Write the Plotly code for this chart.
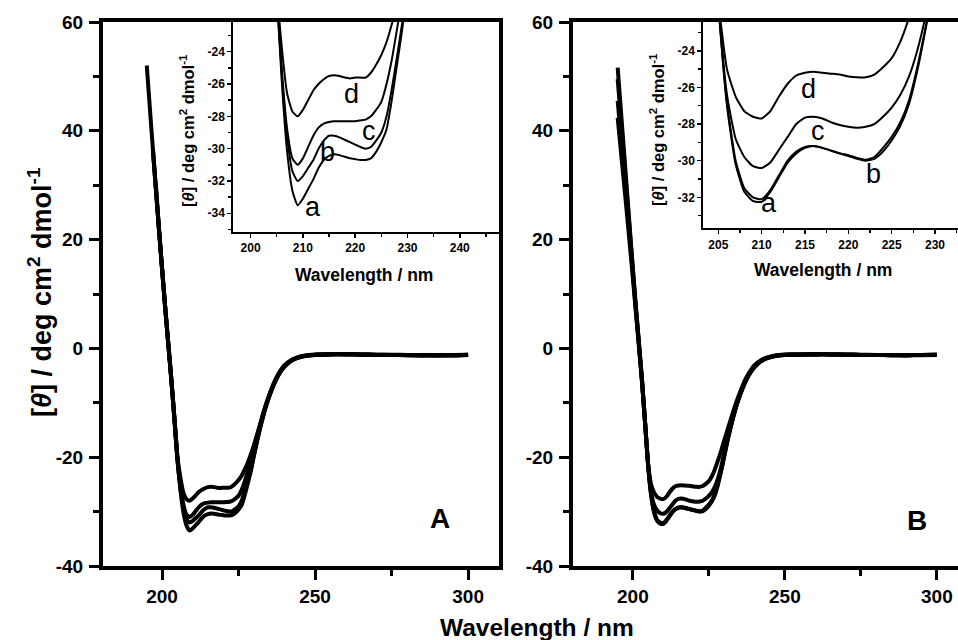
import plotly.graph_objects as go

# ---------------- data ----------------
WL = [195, 196, 197, 198, 199, 200, 201, 202, 203, 204,
      205, 206, 207, 208, 209, 210, 211, 212, 213, 214,
      215, 216, 217, 218, 219, 220, 221, 222, 223, 224,
      225, 226, 227, 228, 229, 230, 231, 232, 233, 234,
      235, 236, 237, 238, 239, 240,
      242, 244, 246, 248, 250, 255, 260, 265, 270, 275, 280, 285, 290, 295, 300]

A_a = [52.0, 44.3, 36.7, 29.2, 21.8, 14.6, 7.6, 1.0, -5.6, -12.8,
       -20.3, -26.0, -30.2, -32.6, -33.5, -33.1, -32.5, -31.9, -31.2, -30.7,
       -30.45, -30.35, -30.4, -30.5, -30.6, -30.65, -30.7, -30.7, -30.6, -30.2,
       -29.6, -28.8, -27.0, -24.8, -22.6, -19.8, -17.2, -14.8, -12.6, -10.6,
       -8.9, -7.4, -6.1, -5.0, -4.1, -3.4,
       -2.4, -1.8, -1.5, -1.3, -1.2, -1.1, -1.1, -1.15, -1.2, -1.2, -1.2, -1.3, -1.3, -1.25, -1.2]
A_b = [None, None, 36.8, 29.3, 21.9, 14.7, 7.7, 1.1, -5.5, -12.7,
       -20.2, -25.6, -29.3, -31.4, -32.0, -31.7, -31.2, -30.7, -30.0, -29.5,
       -29.2, -29.2, -29.3, -29.45, -29.6, -29.75, -29.9, -30.0, -29.9, -29.5,
       -29.0, -28.0, -26.3, -24.3, -22.2, -19.6, -17.0, -14.6, -12.4, -10.5,
       -8.8, -7.3, -6.0, -4.9, -4.0, -3.3,
       -2.35, -1.8, -1.45, -1.3, -1.2, -1.1, -1.05, -1.1, -1.2, -1.2, -1.25, -1.3, -1.25, -1.2, -1.15]
A_c = [None, None, 36.4, 29.1, 21.8, 14.6, 7.6, 1.0, -5.6, -12.6,
       -20.0, -25.2, -28.8, -30.6, -31.0, -30.6, -29.9, -29.2, -28.7, -28.45,
       -28.35, -28.3, -28.3, -28.3, -28.3, -28.3, -28.25, -28.2, -28.0, -27.6,
       -27.1, -26.0, -24.5, -22.6, -20.6, -18.5, -16.3, -14.2, -12.2, -10.3,
       -8.7, -7.2, -5.9, -4.8, -3.9, -3.2,
       -2.3, -1.75, -1.4, -1.25, -1.15, -1.1, -1.1, -1.1, -1.15, -1.2, -1.25, -1.25, -1.3, -1.3, -1.2]
A_d = [None, None, None, 29.9, 22.0, 14.8, 7.8, 1.2, -5.4, -12.4,
       -19.8, -23.8, -26.6, -27.7, -28.0, -27.6, -27.0, -26.4, -26.0, -25.7,
       -25.5, -25.45, -25.5, -25.6, -25.65, -25.6, -25.6, -25.6, -25.3, -24.8,
       -24.2, -23.4, -22.3, -21.0, -19.5, -17.8, -15.9, -14.0, -12.0, -10.2,
       -8.6, -7.1, -5.8, -4.7, -3.8, -3.1,
       -2.2, -1.7, -1.4, -1.2, -1.1, -1.05, -1.05, -1.1, -1.15, -1.15, -1.2, -1.2, -1.25, -1.25, -1.15]

B_a = [51.6, 44.2, 36.8, 29.4, 22.0, 14.7, 7.6, 1.0, -5.8, -13.5,
       -21.3, -27.0, -30.2, -31.7, -32.2, -32.25, -31.7, -30.9, -30.1, -29.6,
       -29.3, -29.2, -29.3, -29.45, -29.6, -29.7, -29.85, -29.95, -29.8, -29.3,
       -28.7, -27.9, -26.7, -24.8, -22.5, -19.9, -17.2, -14.8, -12.6, -10.6,
       -8.9, -7.4, -6.1, -5.0, -4.1, -3.4,
       -2.4, -1.8, -1.5, -1.3, -1.2, -1.15, -1.1, -1.1, -1.15, -1.2, -1.2, -1.25, -1.3, -1.25, -1.2]
B_b = [49.5, 42.5, 35.5, 28.5, 21.4, 14.3, 7.4, 0.9, -5.9, -13.6,
       -21.4, -26.8, -30.0, -31.5, -32.0, -32.1, -31.6, -30.8, -30.0, -29.5,
       -29.25, -29.2, -29.3, -29.45, -29.6, -29.75, -29.9, -30.0, -29.9, -29.5,
       -28.9, -28.1, -26.9, -25.0, -22.6, -20.0, -17.3, -14.9, -12.7, -10.7,
       -9.0, -7.5, -6.2, -5.1, -4.2, -3.5,
       -2.45, -1.85, -1.5, -1.3, -1.2, -1.15, -1.1, -1.1, -1.15, -1.2, -1.2, -1.25, -1.25, -1.2, -1.15]
B_c = [45.5, 39.2, 33.0, 26.7, 20.3, 13.7, 7.0, 0.6, -6.0, -13.6,
       -21.3, -26.4, -28.8, -29.8, -30.3, -30.4, -30.1, -29.4, -28.7, -28.0,
       -27.65, -27.6, -27.7, -27.9, -28.05, -28.15, -28.2, -28.15, -28.0, -27.6,
       -27.1, -26.4, -25.4, -23.9, -21.9, -19.4, -16.9, -14.6, -12.5, -10.5,
       -8.8, -7.3, -6.0, -4.9, -4.0, -3.3,
       -2.35, -1.8, -1.45, -1.25, -1.15, -1.1, -1.1, -1.1, -1.15, -1.2, -1.2, -1.25, -1.25, -1.2, -1.15]
B_d = [42.4, 36.6, 30.8, 25.0, 19.0, 12.9, 6.6, 0.3, -6.2, -13.6,
       -21.2, -25.0, -26.5, -27.3, -27.6, -27.7, -27.3, -26.5, -25.8, -25.35,
       -25.2, -25.15, -25.2, -25.25, -25.3, -25.4, -25.45, -25.45, -25.3, -24.9,
       -24.4, -23.5, -22.2, -20.6, -18.9, -17.0, -15.2, -13.4, -11.6, -9.9,
       -8.4, -7.0, -5.7, -4.7, -3.8, -3.1,
       -2.2, -1.7, -1.4, -1.2, -1.1, -1.1, -1.05, -1.1, -1.1, -1.15, -1.2, -1.2, -1.25, -1.2, -1.15]

CURVE_NAMES = ["a", "b", "c", "d"]
MAIN_XTICKS = [200, 250, 300]
MAIN_YTICKS = [-40, -20, 0, 20, 40, 60]
INSET_A_XTICKS = [200, 210, 220, 230, 240]
INSET_A_YTICKS = [-24, -26, -28, -30, -32, -34]
INSET_B_XTICKS = [205, 210, 215, 220, 225, 230]
INSET_B_YTICKS = [-24, -26, -28, -30, -32]

# letter label positions (inset data coordinates)
LABELS_A = {"a": (212.0, -33.6), "b": (214.8, -30.2), "c": (222.6, -28.9), "d": (219.3, -26.6)}
LABELS_B = {"a": (210.9, -32.3), "b": (222.9, -30.7), "c": (216.5, -28.4), "d": (215.4, -26.1)}

# ---------------- layout helpers ----------------
W, H = 958, 640
def fx(px):
    return px / W
def fy(py):
    return 1 - py / H

FONT = "Arial, Liberation Sans, sans-serif"


def btxt(vals):
    return ["<b>%g</b>" % v for v in vals]


fig = go.Figure()

panelA = [A_a, A_b, A_c, A_d]
panelB = [B_a, B_b, B_c, B_d]

for ys in panelA:
    fig.add_trace(go.Scatter(x=WL, y=ys, mode="lines", xaxis="x", yaxis="y",
                             line=dict(color="black", width=4, shape="spline", smoothing=0.5),
                             showlegend=False, hoverinfo="skip"))
for ys in panelB:
    fig.add_trace(go.Scatter(x=WL, y=ys, mode="lines", xaxis="x2", yaxis="y2",
                             line=dict(color="black", width=4, shape="spline", smoothing=0.5),
                             showlegend=False, hoverinfo="skip"))
for ys in panelA:
    fig.add_trace(go.Scatter(x=WL, y=ys, mode="lines", xaxis="x3", yaxis="y3",
                             line=dict(color="black", width=2, shape="spline", smoothing=0.5),
                             showlegend=False, hoverinfo="skip"))
for ys in panelB:
    fig.add_trace(go.Scatter(x=WL, y=ys, mode="lines", xaxis="x4", yaxis="y4",
                             line=dict(color="black", width=2, shape="spline", smoothing=0.5),
                             showlegend=False, hoverinfo="skip"))


def main_x(domain, rng, anchor):
    return dict(domain=domain, range=rng, anchor=anchor, showline=True, linewidth=4,
                linecolor="black", mirror=True, ticks="outside", ticklen=10, tickwidth=3,
                tickcolor="black", tickvals=MAIN_XTICKS, ticktext=btxt(MAIN_XTICKS),
                minor=dict(ticks="outside", ticklen=6, tickwidth=3, tickcolor="black", dtick=25, tick0=0),
                tickfont=dict(family=FONT, size=19, color="black"),
                showgrid=False, zeroline=False, automargin=False)


def main_y(domain, anchor, mirror):
    return dict(domain=domain, range=[-40, 60], anchor=anchor, showline=True, linewidth=4,
                linecolor="black", mirror=mirror, ticks="outside", ticklen=10, tickwidth=3,
                tickcolor="black", tickvals=MAIN_YTICKS, ticktext=btxt(MAIN_YTICKS),
                minor=dict(ticks="outside", ticklen=6, tickwidth=3, tickcolor="black", dtick=10, tick0=0),
                tickfont=dict(family=FONT, size=19, color="black"), ticklabelstandoff=2,
                showgrid=False, zeroline=False, automargin=False)


def inset_x(domain, rng, anchor, ticks, mdt):
    return dict(domain=domain, range=rng, anchor=anchor, showline=True, linewidth=2,
                linecolor="black", ticks="outside", ticklen=4, tickwidth=1.5, tickcolor="black",
                tickvals=ticks, ticktext=btxt(ticks),
                minor=dict(ticks="outside", ticklen=3, tickwidth=1.5, tickcolor="black", dtick=mdt, tick0=0),
                tickfont=dict(family=FONT, size=12, color="black"),
                showgrid=False, zeroline=False, automargin=False)


def inset_y(domain, rng, anchor, ticks):
    return dict(domain=domain, range=rng, anchor=anchor, showline=True, linewidth=2,
                linecolor="black", ticks="outside", ticklen=4, tickwidth=1.5, tickcolor="black",
                tickvals=ticks, ticktext=btxt(ticks),
                minor=dict(ticks="outside", ticklen=3, tickwidth=1.5, tickcolor="black", dtick=1, tick0=0),
                tickfont=dict(family=FONT, size=12, color="black"),
                showgrid=False, zeroline=False, automargin=False)


main_ydom = [fy(566), fy(22)]
fig.update_layout(
    template="none",
    width=W, height=H, margin=dict(l=0, r=0, t=0, b=0, pad=0),
    paper_bgcolor="white", plot_bgcolor="white", showlegend=False,
    xaxis=main_x([fx(103), fx(499)], [180.7, 310.1], "y"),
    yaxis=main_y(main_ydom, "x", True),
    xaxis2=main_x([fx(573), 1.0], [180.3, 306.96], "y2"),
    yaxis2=main_y(main_ydom, "x2", False),
    xaxis3=inset_x([fx(233.3), fx(499)], [196.7, 247.5], "y3", INSET_A_XTICKS, 5),
    yaxis3=inset_y([fy(231.7), fy(22)], [-35.14, -22.16], "x3", INSET_A_YTICKS),
    xaxis4=inset_x([fx(703.3), 1.0], [203.27, 232.65], "y4", INSET_B_XTICKS, 2.5),
    yaxis4=inset_y([fy(228.3), fy(22)], [-33.69, -22.43], "x4", INSET_B_YTICKS),
)

ytitle = "[<i>θ</i>] / deg cm<sup>2</sup> dmol<sup>-1</sup>"


def note(text, x, y, size, bold=True, angle=0, xref="paper", yref="paper"):
    return dict(text=("<b>%s</b>" % text) if bold else text, x=x, y=y, xref=xref, yref=yref,
                textangle=angle, xanchor="center", yanchor="middle", showarrow=False,
                font=dict(family=FONT, size=size, color="black"))


ann = [
    note(ytitle, fx(40), fy(293), 27, angle=-90),
    note("Wavelength / nm", fx(537), fy(627), 24.5),
    note(ytitle, fx(187), fy(131), 16.5, angle=-90),
    note(ytitle, fx(657), fy(130), 16.5, angle=-90),
    note("Wavelength / nm", fx(364), fy(275), 17.5),
    note("Wavelength / nm", fx(822.5), fy(270), 17.5),
    note("A", fx(440), fy(518), 28),
    note("B", fx(917), fy(520), 28),
]
for k in CURVE_NAMES:
    lx, ly = LABELS_A[k]
    ann.append(note(k, lx, ly, 27, bold=False, xref="x3", yref="y3"))
    lx, ly = LABELS_B[k]
    ann.append(note(k, lx, ly, 27, bold=False, xref="x4", yref="y4"))
fig.update_layout(annotations=ann)

fig.write_html("out.html", config={"displayModeBar": False, "staticPlot": True},
               post_script="document.body.style.margin='0px';document.body.style.overflow='hidden';")
